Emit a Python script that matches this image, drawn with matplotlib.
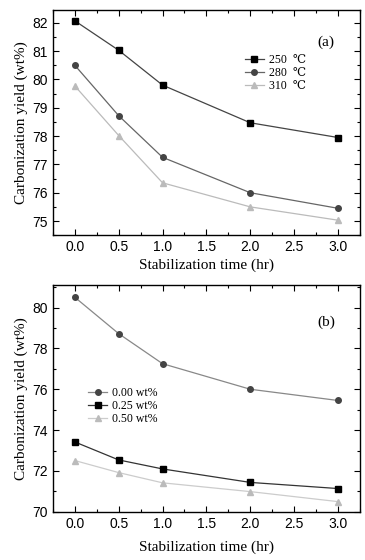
import numpy as np
import matplotlib
matplotlib.use("Agg")
import matplotlib.pyplot as plt
from matplotlib.ticker import MultipleLocator

# stabilization time (hr)
time_hr = [0.0, 0.5, 1.0, 2.0, 3.0]

# (a) stabilization temperature
temp_labels = ['250  \u2103', '280  \u2103', '310  \u2103']
yield_250 = [82.07, 81.03, 79.80, 78.47, 77.95]
yield_280 = [80.50, 78.72, 77.25, 76.00, 75.45]
yield_310 = [79.77, 78.02, 76.35, 75.50, 75.03]

# (b) additive content
wt_labels = ['0.00 wt%', '0.25 wt%', '0.50 wt%']
yield_000 = [80.50, 78.72, 77.25, 76.00, 75.45]
yield_025 = [73.42, 72.54, 72.10, 71.44, 71.14]
yield_050 = [72.51, 71.92, 71.42, 70.99, 70.50]

serif = ['Liberation Serif', 'DejaVu Serif']
sans = ['Liberation Sans', 'DejaVu Sans']

fig = plt.figure(figsize=(3.65, 5.6), dpi=100)
ax1 = fig.add_axes([0.145, 0.580, 0.841, 0.402])
ax2 = fig.add_axes([0.145, 0.086, 0.841, 0.405])


def style_axes(ax):
    ax.tick_params(which='both', direction='in', right=True, top=True, labelsize=10)
    ax.tick_params(which='major', length=4, width=0.8)
    ax.tick_params(which='minor', length=2, width=0.8)
    for s in ax.spines.values():
        s.set_linewidth(1.0)
    ax.set_xlim(-0.25, 3.25)
    ax.xaxis.set_minor_locator(MultipleLocator(0.25))
    ax.set_xticks([0, 0.5, 1.0, 1.5, 2.0, 2.5, 3.0])
    ax.set_xticklabels(['0.0', '0.5', '1.0', '1.5', '2.0', '2.5', '3.0'], family=sans, fontsize=10)
    ax.set_xlabel('Stabilization time (hr)', family=serif, fontsize=11, labelpad=3)
    ax.set_ylabel('Carbonization yield (wt%)', family=serif, fontsize=11, labelpad=3)


# panel (a)
ax1.plot(time_hr, yield_250, '-s', color='#444444', mfc='black', mec='black', ms=4, lw=0.9, label=temp_labels[0])
ax1.plot(time_hr, yield_280, '-o', color='#666666', mfc='#444444', mec='#444444', ms=4, lw=0.9, label=temp_labels[1])
ax1.plot(time_hr, yield_310, '-^', color='#bbbbbb', mfc='#bbbbbb', mec='#bbbbbb', ms=4, lw=0.9, label=temp_labels[2])
ax1.set_ylim(74.5, 82.45)
ax1.yaxis.set_minor_locator(MultipleLocator(0.5))
style_axes(ax1)
ax1.set_yticks([75, 76, 77, 78, 79, 80, 81, 82])
ax1.set_yticklabels(['75', '76', '77', '78', '79', '80', '81', '82'], family=sans, fontsize=10)
ax1.text(0.86, 0.84, '(a)', transform=ax1.transAxes, family=serif, fontsize=11)
ax1.legend(loc='upper left', bbox_to_anchor=(0.61, 0.825), frameon=False,
           prop={'family': serif, 'size': 8.5}, handlelength=1.6,
           handletextpad=0.4, labelspacing=0.08, borderaxespad=0)

# panel (b)
ax2.plot(time_hr, yield_000, '-o', color='#888888', mfc='#444444', mec='#444444', ms=4, lw=0.9, label=wt_labels[0])
ax2.plot(time_hr, yield_025, '-s', color='#333333', mfc='black', mec='black', ms=4, lw=0.9, label=wt_labels[1])
ax2.plot(time_hr, yield_050, '-^', color='#cccccc', mfc='#bbbbbb', mec='#bbbbbb', ms=4, lw=0.9, label=wt_labels[2])
ax2.set_ylim(70, 81.1)
ax2.yaxis.set_minor_locator(MultipleLocator(1))
style_axes(ax2)
ax2.set_yticks([70, 72, 74, 76, 78, 80])
ax2.set_yticklabels(['70', '72', '74', '76', '78', '80'], family=sans, fontsize=10)
ax2.xaxis.labelpad = 7
ax2.text(0.86, 0.82, '(b)', transform=ax2.transAxes, family=serif, fontsize=11)
ax2.legend(loc='upper left', bbox_to_anchor=(0.10, 0.57), frameon=False,
           prop={'family': serif, 'size': 8.5}, handlelength=1.6,
           handletextpad=0.4, labelspacing=0.08, borderaxespad=0)

fig.savefig('out.png', dpi=100)
